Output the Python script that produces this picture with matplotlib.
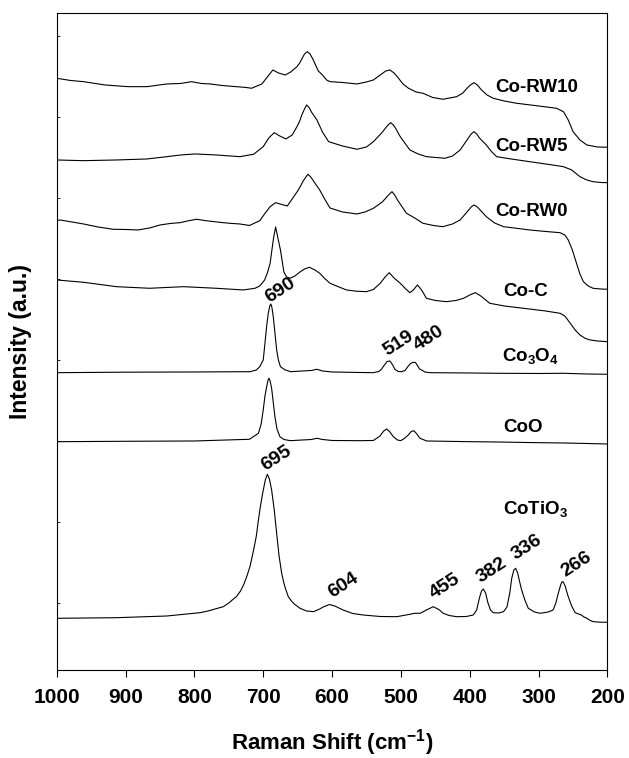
import matplotlib
matplotlib.use("Agg")
import matplotlib.pyplot as plt

plt.rcParams["font.family"] = ["Liberation Sans", "DejaVu Sans"]
plt.rcParams["font.weight"] = "bold"
plt.rcParams["mathtext.fontset"] = "custom"
plt.rcParams["mathtext.rm"] = "Liberation Sans:bold"
plt.rcParams["mathtext.bf"] = "Liberation Sans:bold"
plt.rcParams["mathtext.default"] = "rm"

# spectra: raman shift (cm-1) and stacked intensity (a.u.)
rw10_x = [1000, 980, 961, 930, 896, 869, 840, 820, 804, 790, 777, 760, 739, 725, 717, 702, 694, 686,
          678, 668, 660, 655, 651, 647, 644, 640, 636, 632, 628, 624, 620, 614, 608, 603, 585, 564,
          550, 540, 528, 522, 516, 510, 505, 497, 489, 478, 468, 454, 439, 419, 410, 405, 399, 394,
          389, 383, 375, 366, 350, 332, 300, 274, 264, 257, 250, 240, 230, 215, 200]
rw10_y = [599.7, 597.5, 596.3, 593, 591.3, 591.3, 594, 594.5, 596.3, 594.5, 594, 592.5, 591.3, 590.5,
          589.7, 594, 601, 608, 605, 603, 606, 609, 611.3, 615, 619, 624, 626.3, 624, 619, 613, 607,
          603, 598, 596.3, 595.5, 594, 596, 598, 604, 607, 608, 605, 601, 594, 589.7, 586, 584.7,
          580.5, 578.7, 581.3, 585, 589, 593, 595.3, 593, 588, 583, 579.7, 577, 574.7, 572, 569.7,
          566.3, 558, 546.3, 538, 533, 531, 530.7]

rw5_x = [1000, 961, 913, 869, 840, 820, 799, 768, 734, 714, 700, 692, 684, 676, 667, 658, 651, 647,
         644, 640, 637, 633, 630, 626, 622, 614, 605, 585, 564, 550, 540, 528, 520, 515, 511, 508,
         501, 487, 475, 463, 436, 425, 414, 404, 398, 394, 390, 386, 376, 368, 361, 340, 313, 280,
         264, 252, 240, 230, 221, 210, 200]
rw5_y = [518, 517.3, 518, 519, 521.3, 523, 524, 523, 521.3, 523.7, 531.3, 540, 545.3, 542, 539, 543,
         551.3, 557, 563, 569, 573, 570, 566, 562, 558, 546, 536.3, 532, 528.7, 531, 536.3, 545,
         552, 555.3, 553, 550, 541.3, 528, 524, 521.3, 519.7, 522, 528, 538, 544, 546.3, 544, 540,
         533, 526, 521.3, 519, 516.3, 513, 511.3, 508, 501.3, 498, 496.3, 495.5, 495.3]

rw0_x = [1000, 995, 961, 940, 918, 900, 882, 865, 850, 835, 821, 810, 797, 780, 758, 745, 734, 720,
         705, 697, 690, 682, 673, 665, 657, 649, 645, 642, 638, 635, 631, 626, 618, 610, 603, 585,
         564, 552, 540, 527, 518, 513, 509, 505, 492, 480, 468, 453, 439, 425, 414, 404, 398, 394,
         389, 385, 376, 364, 351, 330, 313, 290, 269, 262, 257, 251, 245, 240, 235, 228, 221, 210,
         200]
rw0_y = [457.3, 458, 454, 451, 448.7, 448.5, 448, 450, 453, 454.5, 455.3, 457, 458.7, 457, 455.3,
         454.5, 454, 452.5, 457.3, 465, 471.3, 475.3, 473.5, 472, 480, 488, 493, 497, 501, 503.7, 501,
         496, 488, 478, 470, 466, 464, 466, 469.7, 476, 483, 486.3, 483, 478, 464.7, 460, 454.7,
         452.5, 451.3, 454, 458, 466, 471, 473, 471, 468, 461.3, 455, 451.3, 449.5, 448, 446.5,
         445.3, 443, 438, 428, 414.7, 404, 396.3, 392, 389.7, 389, 388.7]

coc_x = [1000, 961, 913, 865, 816, 768, 729, 712, 705, 698, 694, 690, 687, 685, 682, 679, 675, 672,
         670, 666, 661, 654, 646, 640, 633, 625, 618, 610, 603, 590, 579, 565, 550, 540, 530, 523,
         517, 510, 501, 493, 487, 482, 476, 470, 463, 450, 434, 420, 409, 400, 392, 384, 371, 350,
         322, 290, 269, 262, 254, 247, 240, 232, 225, 215, 200]
coc_y = [398, 395.7, 391.3, 389.7, 391.3, 389.7, 388, 389.7, 392, 398, 405, 414.7, 430, 440, 451,
         441, 428, 415, 406, 401, 399.7, 402, 406.3, 409, 410.7, 408, 404.7, 399, 394.7, 391, 388,
         386.8, 386.3, 388.5, 394.7, 401, 405.3, 400, 394.7, 389, 385.3, 388, 393, 388, 379.7,
         377.5, 376.3, 377.5, 379.7, 383, 385.3, 382, 374.7, 372, 369.7, 367, 364.7, 362, 354.7,
         348, 343, 339.5, 338, 337, 336.3]

co3o4_x = [1000, 900, 800, 719, 710, 705, 700, 697.5, 695, 692.7, 690.5, 689, 687.5, 685.4, 683,
           680.5, 678, 675, 668, 660, 630, 622, 614, 600, 560, 540, 532, 528, 524, 520, 516, 512,
           508.7, 504, 499, 494, 490, 486, 482, 479, 476, 473, 470, 465, 458, 400, 361, 300, 264,
           230, 200]
co3o4_y = [305.3, 305.8, 306, 306.3, 308, 311.3, 318, 334.7, 352, 364.7, 372, 374, 371, 361.3, 345,
           328, 318, 311.3, 308, 306.3, 307.5, 308.7, 307, 306, 305.5, 305.3, 306.5, 309, 313, 316.5,
           317, 313, 308.7, 306.5, 306.3, 307.5, 311.3, 314.5, 315.7, 315.5, 312.5, 309, 308, 306,
           305.3, 305, 304.7, 304.5, 304.7, 304, 303.7]

coo_x = [1000, 900, 800, 720, 707, 703, 700, 697.5, 695, 693, 691.7, 690, 687.8, 685.5, 683, 680,
         675.8, 670, 660.6, 630, 622, 614, 600, 560, 540, 530.4, 525, 520.7, 516, 511.1, 505, 500.4,
         495, 489.3, 485, 481.1, 477, 472.3, 462.6, 400, 361, 300, 264, 230, 200]
coo_y = [236.3, 236.7, 237, 238.7, 244.7, 254, 268, 282, 291.3, 298, 299.7, 297, 289.7, 276, 261.3,
         249, 241.3, 238.5, 237.3, 238.5, 239.7, 238.5, 237.5, 237.3, 237.5, 242, 247, 249, 246,
         241.3, 238, 237.3, 239.5, 243, 246.5, 247.3, 244, 239.7, 237, 236.3, 236, 235.3, 235, 234.5,
         234]

cotio3_x = [1000, 913, 840, 792, 780, 770, 758, 750, 745, 739, 733, 728, 724, 719, 714, 710, 707,
            704, 700.8, 697, 694, 691, 687.8, 684, 680.5, 677, 673.2, 670, 668, 663.6, 659, 655,
            650, 646.6, 637, 627, 618, 612.8, 604, 596, 584, 570, 555, 530, 506, 487, 480, 472, 463,
            453, 445, 438.5, 430, 419, 405, 395, 390, 386, 383, 380.4, 377, 374, 370, 366, 358, 351,
            346, 342, 339, 336, 333.4, 330.5, 327.5, 324.7, 320, 315, 306, 298, 286, 279, 275, 271.5,
            268, 266, 264.2, 261.5, 259, 257, 252, 247, 242, 238, 234, 230, 225, 220.6, 210, 200]
cotio3_y = [59.7, 60.3, 62, 65.3, 67, 69, 71.3, 75, 78, 81.3, 87, 94, 101.3, 112, 128, 142, 158,
            172, 184.7, 198, 203.7, 199, 188, 168, 144.7, 122, 104.7, 95, 90, 81.3, 77, 74, 71.5,
            69.7, 67, 66.3, 69, 71, 73.5, 72, 68, 64.5, 63, 61.5, 61.3, 63.7, 64.7, 64.7, 68, 71.3,
            68.5, 64.7, 62.5, 61.3, 61.5, 63, 68, 80, 87, 89, 85, 76, 68, 65.3, 65, 66.3, 71, 84.7,
            100, 108, 109.7, 105, 96, 88, 78, 69.7, 66, 64.7, 66, 68, 75, 84.7, 93, 96.3, 96, 92, 86,
            81.3, 72, 65.3, 64, 63, 61, 59.7, 57.5, 56.3, 55.8, 55.7]

# sample names and where they sit
names = ["Co-RW10", "Co-RW5", "Co-RW0", "Co-C", "Co$_3$O$_4$", "CoO", "CoTiO$_3$"]
name_x = [362.6, 362.6, 362.6, 351.4, 352.8, 351.4, 351.4]
name_y = [585.7, 527.3, 462.3, 382, 317.3, 246.3, 164]

# peak labels
peak_text = ["690", "519", "480", "695", "604", "455", "382", "336", "266"]
peak_x = [675, 504, 459, 680.5, 584, 436, 368, 317.4, 244.8]
peak_y = [388, 334.7, 339.7, 219.7, 93, 91.3, 107.3, 130.7, 114]

# small inner ticks on the intensity axis
ytick_vals = [75, 156, 237, 318, 399, 480, 561, 642]

fig = plt.figure(figsize=(6.29, 7.58), dpi=100)
ax = fig.add_axes([0.0901, 0.1161, 0.8757, 0.8668])

for xs, ys in [(rw10_x, rw10_y), (rw5_x, rw5_y), (rw0_x, rw0_y), (coc_x, coc_y),
               (co3o4_x, co3o4_y), (coo_x, coo_y), (cotio3_x, cotio3_y)]:
    ax.plot(xs, ys, color="black", lw=0.8)

for t, x, y in zip(names, name_x, name_y):
    ax.text(x, y, t, fontsize=13.5, fontweight="bold", ha="left", va="baseline")

for t, x, y in zip(peak_text, peak_x, peak_y):
    ax.text(x, y, t, fontsize=14, fontweight="bold", ha="center", va="center", rotation=33)

ax.set_xlim(1000, 200)
ax.set_ylim(8, 665)
ax.set_xticks(range(1000, 199, -100))
ax.set_yticks(ytick_vals)
ax.set_yticklabels([])
ax.tick_params(axis="x", direction="out", length=5, width=0.8, pad=8, labelsize=15)
ax.tick_params(axis="y", direction="in", length=2.5, width=0.6)
for lab in ax.get_xticklabels():
    lab.set_fontweight("bold")
for s in ax.spines.values():
    s.set_linewidth(0.8)

ax.set_xlabel("Raman Shift (cm$^{-1}$)", fontsize=16, fontweight="bold")
ax.xaxis.set_label_coords(0.5, -0.087)
ax.set_ylabel("Intensity (a.u.)", fontsize=16.5, fontweight="bold")
ax.yaxis.set_label_coords(-0.045, 0.5)

fig.savefig("out.png", dpi=100)
